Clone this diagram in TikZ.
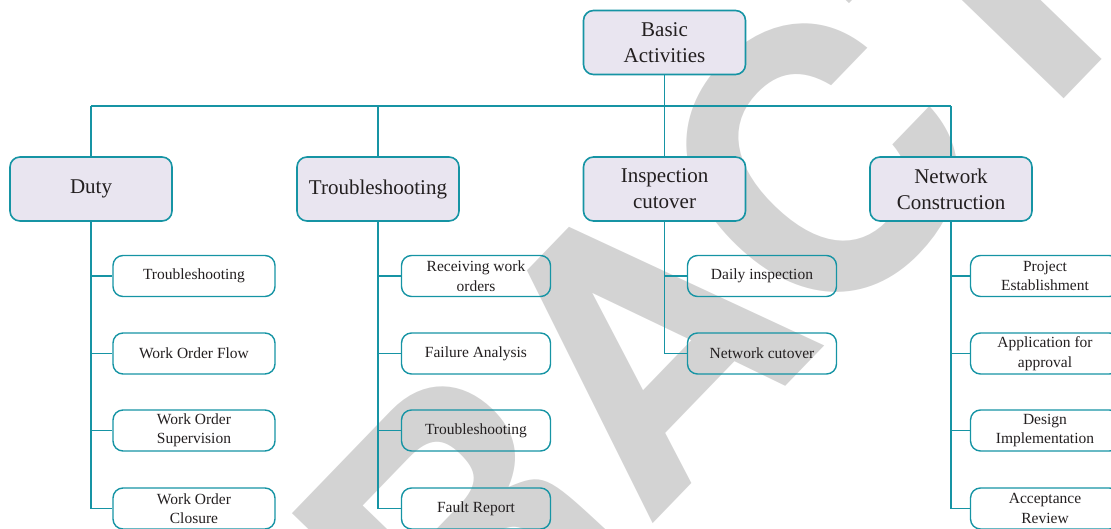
\documentclass[tikz,border=0pt]{standalone}
\usepackage{fontspec}
\setmainfont{Liberation Serif}
\newfontfamily\wmfont{TeX Gyre Heros}
\definecolor{teal}{RGB}{22,148,164}
\definecolor{lav}{RGB}{233,229,240}
\definecolor{ink}{RGB}{35,31,32}
\definecolor{wmgray}{RGB}{211,211,211}
\tikzset{
  mainbox/.style={draw=teal, line width=1.6pt, fill=lav, rounded corners=10pt,
    minimum width=162pt, minimum height=64pt, align=center, text=ink,
    inner sep=2pt, font=\fontsize{21}{26}\selectfont},
  subbox/.style={draw=teal, line width=1.4pt, rounded corners=10pt,
    minimum height=41pt, align=center, text=ink, inner sep=1pt,
    font=\fontsize{15.5}{19.5}\selectfont},
  link/.style={draw=teal, line width=1.2pt},
}
\begin{document}
\begin{tikzpicture}[x=1pt, y=-1pt]
\path[use as bounding box] (0,0) rectangle (1111,529);
\clip (0,0) rectangle (1111,529);

% watermark behind the chart
\node[rotate=46, anchor=base, inner sep=0pt, text=wmgray,
      font=\wmfont\bfseries\fontsize{365}{365}\selectfont] (wm) at (734,440) {RETRACTED};

% top level
\node[mainbox] (basic) at (664.5,42.5) {Basic\\Activities};

% second level
\node[mainbox] (duty) at (91,189) {Duty};
\node[mainbox] (trbl) at (378,189) {Troubleshooting};
\node[mainbox] (insp) at (664.5,189) {Inspection\\cutover};
\node[mainbox] (netc) at (951,189) {Network\\Construction};

% bus line
\coordinate (busL) at (91,106);
\coordinate (busR) at (951,106);
\draw[link] (busL) -- (busR);
\draw[link] (basic.south) -- (basic.south |- busL);
\foreach \n in {duty,trbl,insp,netc}
  \draw[link] (\n.north) -- (\n.north |- busL);

% Duty column
\node[subbox, minimum width=162pt] (d1) at (194,276) {Troubleshooting};
\node[subbox, minimum width=162pt] (d2) at (194,353.5) {Work Order Flow};
\node[subbox, minimum width=162pt] (d3) at (194,430.5) {Work Order\\Supervision};
\node[subbox, minimum width=162pt] (d4) at (194,508.5) {Work Order\\Closure};

% Troubleshooting column
\node[subbox, minimum width=149pt] (t1) at (476,276) {Receiving work\\orders};
\node[subbox, minimum width=149pt] (t2) at (476,353.5) {Failure Analysis};
\node[subbox, minimum width=149pt] (t3) at (476,430.5) {Troubleshooting};
\node[subbox, minimum width=149pt] (t4) at (476,508.5) {Fault Report};

% Inspection column
\node[subbox, minimum width=149pt] (i1) at (762,276) {Daily inspection};
\node[subbox, minimum width=149pt] (i2) at (762,353.5) {Network cutover};

% Network construction column
\node[subbox, minimum width=149pt] (n1) at (1045,276) {Project\\Establishment};
\node[subbox, minimum width=149pt] (n2) at (1045,353.5) {Application for\\approval};
\node[subbox, minimum width=149pt] (n3) at (1045,430.5) {Design\\Implementation};
\node[subbox, minimum width=149pt] (n4) at (1045,508.5) {Acceptance\\Review};

% branches
\foreach \s in {d1,d2,d3,d4} \draw[link] (duty.south) |- (\s.west);
\foreach \s in {t1,t2,t3,t4} \draw[link] (trbl.south) |- (\s.west);
\foreach \s in {i1,i2} \draw[link] (insp.south) |- (\s.west);
\foreach \s in {n1,n2,n3,n4} \draw[link] (netc.south) |- (\s.west);
\end{tikzpicture}
\end{document}
